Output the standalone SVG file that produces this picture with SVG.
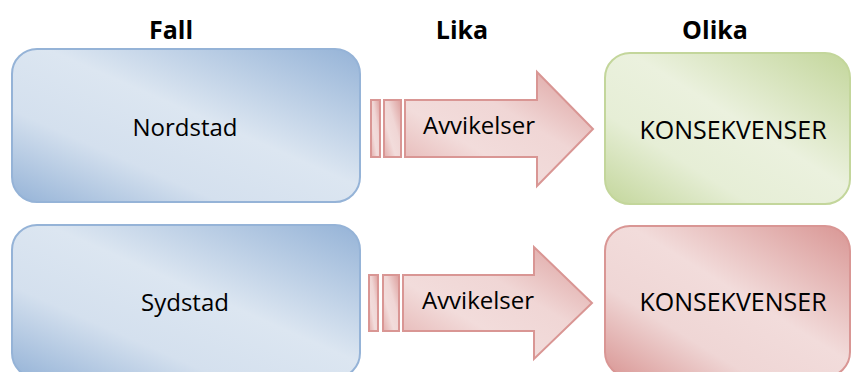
<svg xmlns="http://www.w3.org/2000/svg" width="852" height="372" viewBox="0 0 852 372">
<style>
text{font-family:"Open Sans","Noto Sans","Liberation Sans",sans-serif;fill:#000;text-anchor:middle}
.h{font-weight:bold;font-size:25px}
.t{font-size:24px}
.k{font-size:25px}
.blue{fill:url(#gBlue);stroke:#95b3d7;stroke-width:2}
.green{fill:url(#gGreen);stroke:#c3d69b;stroke-width:2}
.red{fill:url(#gRed);stroke:#d99694;stroke-width:2}
.arr{fill:url(#gArr);stroke:#d99694;stroke-width:2;stroke-linejoin:miter}
</style>
<defs>
<linearGradient id="gBlue" x1="0" y1="1" x2="1" y2="0">
<stop offset="0" stop-color="#95b3d7"/><stop offset="0.3" stop-color="#d4e0ee"/><stop offset="0.55" stop-color="#dce6f1"/><stop offset="1" stop-color="#95b3d7"/>
</linearGradient>
<linearGradient id="gGreen" x1="0" y1="1" x2="1" y2="0">
<stop offset="0" stop-color="#c3d69b"/><stop offset="0.3" stop-color="#e6eed6"/><stop offset="0.55" stop-color="#ebf1de"/><stop offset="1" stop-color="#c3d69b"/>
</linearGradient>
<linearGradient id="gRed" x1="0" y1="1" x2="1" y2="0">
<stop offset="0" stop-color="#d99694"/><stop offset="0.3" stop-color="#efd6d5"/><stop offset="0.55" stop-color="#f2dcdb"/><stop offset="1" stop-color="#d99694"/>
</linearGradient>
<linearGradient id="gArr" x1="0" y1="1" x2="1" y2="0">
<stop offset="0" stop-color="#e3aeac"/><stop offset="0.35" stop-color="#f2dcdb"/><stop offset="0.6" stop-color="#f0d6d5"/><stop offset="1" stop-color="#dc9e9c"/>
</linearGradient>
</defs>

<g id="headers">
<text class="h" x="171" y="39">Fall</text>
<text class="h" x="462" y="39">Lika</text>
<text class="h" x="715" y="39">Olika</text>
</g>

<g id="nordstad">
<rect class="blue" x="12" y="49" width="348" height="153" rx="25"/>
<text class="t" x="185" y="136">Nordstad</text>
</g>
<g id="sydstad">
<rect class="blue" x="12" y="225" width="348" height="153" rx="25"/>
<text class="t" x="185" y="311">Sydstad</text>
</g>

<g id="konsekvenser1">
<rect class="green" x="605" y="53" width="245" height="151" rx="25"/>
<text class="k" x="733" y="139">KONSEKVENSER</text>
</g>
<g id="konsekvenser2">
<rect class="red" x="605" y="226" width="245" height="151" rx="25"/>
<text class="k" x="733" y="311">KONSEKVENSER</text>
</g>

<g id="connectors">
<g id="arrow1">
<rect class="arr" x="371" y="100" width="9" height="57"/>
<rect class="arr" x="384" y="100" width="17" height="57"/>
<path class="arr" d="M405,100 H537 V72 L593,129 L537,186 V157 H405 Z"/>
<text class="t" x="479" y="134">Avvikelser</text>
</g>
<g id="arrow2">
<rect class="arr" x="369" y="275" width="9" height="56"/>
<rect class="arr" x="383" y="275" width="16" height="56"/>
<path class="arr" d="M403,275 H534 V247 L592,303 L534,359 V331 H403 Z"/>
<text class="t" x="478" y="309">Avvikelser</text>
</g>
</g>
</svg>
